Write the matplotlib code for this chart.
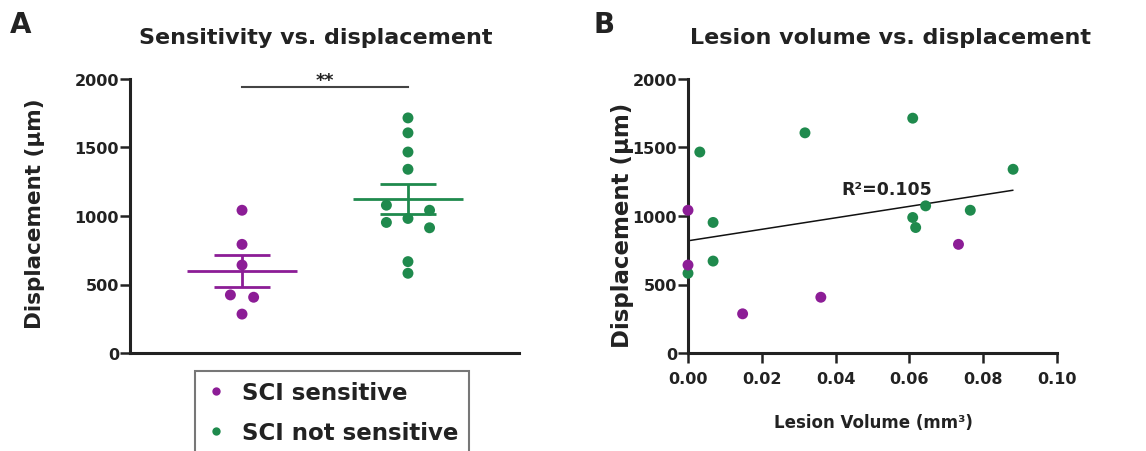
import numpy as np
import matplotlib.pyplot as plt

# colours of the two groups
PURPLE = '#8C1D96'
GREEN = '#1F8A4D'

# panel A: displacement per group (um), with the swarm offsets seen in the figure
sens_disp = [1042, 793, 642, 424, 407, 284]
sens_off = [0, 0, 0, -0.07, 0.07, 0]
notsens_disp = [1716, 1607, 1467, 1341, 1079, 1042, 982, 953, 914, 667, 582]
notsens_off = [0, 0, 0, 0, -0.13, 0.13, 0, -0.13, 0.13, 0, 0]

# panel B: lesion volume (mm3) vs displacement (um)
sens_vol = [0.0, 0.0, 0.0733, 0.036, 0.0148]
sens_vdisp = [1042, 642, 793, 407, 286]
notsens_vol = [0.0609, 0.0317, 0.0032, 0.0881, 0.0644, 0.0765, 0.0609, 0.0617, 0.0068, 0.0068, 0.0]
notsens_vdisp = [1714, 1607, 1467, 1341, 1074, 1042, 989, 916, 953, 671, 582]

# linear fit as drawn in the figure (intercept, slope)
fit_b0, fit_b1 = 819, 4190
fit_x = [0.0, 0.088]

plt.rcParams['font.family'] = 'DejaVu Sans'
plt.rcParams['font.weight'] = 'bold'
TXT = '#222222'

W, H = 1146, 452
fig = plt.figure(figsize=(W / 100, H / 100), dpi=100)


def box(l, r, t, b):
    return [l / W, 1 - b / H, (r - l) / W, (b - t) / H]


def style(ax):
    for s in ['top', 'right']:
        ax.spines[s].set_visible(False)
    for s in ['left', 'bottom']:
        ax.spines[s].set_linewidth(2.2)
        ax.spines[s].set_color(TXT)
    ax.set_ylim(0, 2000)
    ax.set_yticks([0, 500, 1000, 1500, 2000])
    ax.tick_params(axis='both', length=7, width=1.8, color=TXT,
                   labelsize=11.5, labelcolor=TXT, pad=1)
    for lab in ax.get_yticklabels() + ax.get_xticklabels():
        lab.set_fontweight('bold')


# ---- panel A ----
axA = fig.add_axes(box(130, 519, 80, 354))
style(axA)
axA.set_xlim(-0.675, 1.669)
axA.set_xticks([])

groups = [(0, sens_disp, sens_off, PURPLE), (1, notsens_disp, notsens_off, GREEN)]
for xc, vals, offs, col in groups:
    vals = np.array(vals)
    axA.scatter(xc + np.array(offs), vals, s=62, color=col, edgecolor='none', zorder=3, clip_on=False)
    m = vals.mean()
    sem = vals.std(ddof=1) / np.sqrt(len(vals))
    axA.hlines(m, xc - 0.33, xc + 0.33, color=col, lw=2, zorder=4)
    axA.hlines([m - sem, m + sem], xc - 0.17, xc + 0.17, color=col, lw=2, zorder=4)
    axA.vlines(xc, m - sem, m + sem, color=col, lw=2, zorder=4)

axA.plot([0, 1], [1940, 1940], color='#444444', lw=1.5, clip_on=False)
axA.text(0.5, 1925, '**', ha='center', va='bottom', fontsize=12.5, color=TXT)

# ---- panel B ----
axB = fig.add_axes(box(688, 1057, 80, 354))
style(axB)
axB.set_xlim(0, 0.10)
axB.set_xticks(np.arange(0, 0.101, 0.02))
axB.set_xticklabels(['%.2f' % v for v in np.arange(0, 0.101, 0.02)], fontweight='bold')
axB.tick_params(axis='x', pad=6)
fx = np.array(fit_x)
axB.plot(fx, fit_b0 + fit_b1 * fx, color='#111111', lw=1.1, zorder=2)
axB.scatter(notsens_vol, notsens_vdisp, s=62, color=GREEN, edgecolor='none', zorder=3, clip_on=False)
axB.scatter(sens_vol, sens_vdisp, s=62, color=PURPLE, edgecolor='none', zorder=3, clip_on=False)
axB.text(0.0415, 1200, 'R²=0.105', ha='left', va='center', fontsize=12.5, color=TXT)

# ---- texts ----
fig.text(10 / W, 1 - 33 / H, 'A', fontsize=20, color=TXT, va='baseline')
fig.text(593 / W, 1 - 33 / H, 'B', fontsize=20, color=TXT, va='baseline')
fig.text(316 / W, 1 - 44 / H, 'Sensitivity vs. displacement', fontsize=16, color=TXT,
         ha='center', va='baseline')
fig.text(891 / W, 1 - 44 / H, 'Lesion volume vs. displacement', fontsize=16, color=TXT,
         ha='center', va='baseline')
fig.text(35.5 / W, 1 - 214 / H, 'Displacement (µm)', fontsize=15.5, color=TXT,
         rotation=90, ha='center', va='center')
fig.text(623 / W, 1 - 225 / H, 'Displacement (µm)', fontsize=16.5, color=TXT,
         rotation=90, ha='center', va='center')
fig.text(873 / W, 1 - 423 / H, 'Lesion Volume (mm³)', fontsize=12, color=TXT,
         ha='center', va='center')

# legend (bottom of the box runs off the figure, as in the source)
h1 = plt.Line2D([], [], ls='none', marker='o', ms=6, color=PURPLE, mec='none')
h2 = plt.Line2D([], [], ls='none', marker='o', ms=6, color=GREEN, mec='none')
leg = fig.legend([h1, h2], ['SCI sensitive', 'SCI not sensitive'],
                 loc='upper left', bbox_to_anchor=(195 / W, 1 - 372 / H),
                 borderaxespad=0, fancybox=False, frameon=True,
                 prop={'size': 16.5, 'weight': 'bold'}, labelcolor=TXT,
                 handlelength=0.9, handletextpad=0.7, labelspacing=0.75,
                 borderpad=0.45)
leg.get_frame().set_edgecolor('#555555')
leg.get_frame().set_linewidth(1.5)

fig.savefig('out.png', dpi=100)
